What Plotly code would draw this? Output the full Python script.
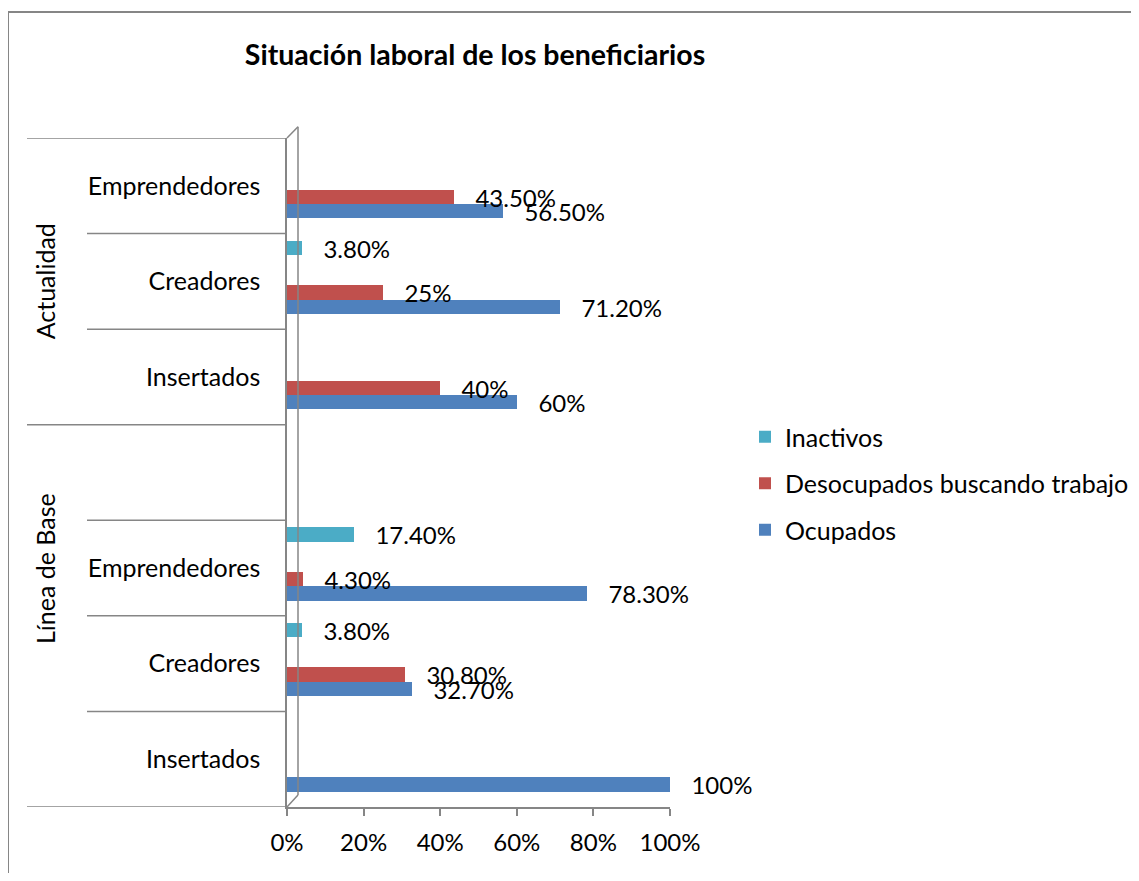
import plotly.graph_objects as go

# ---------------- data ----------------
groups = ["Línea de Base", "Línea de Base", "Línea de Base", "Línea de Base",
          "Actualidad", "Actualidad", "Actualidad"]
subcats = ["Insertados", "Creadores", "Emprendedores", "",
           "Insertados", "Creadores", "Emprendedores"]
ocupados = [100, 32.7, 78.3, None, 60, 71.2, 56.5]
desocupados = [None, 30.8, 4.3, None, 40, 25, 43.5]
inactivos = [None, 3.8, 17.4, None, None, 3.8, None]
series_names = ["Ocupados", "Desocupados buscando trabajo", "Inactivos"]
x_ticks = [0, 20, 40, 60, 80, 100]

# ---------------- styling ----------------
FONT = "Lato"
FS_CAT = 25
FS_DATA = 24
GRAY = "#868686"
colors = {"Ocupados": "#4F81BD", "Desocupados buscando trabajo": "#C0504D", "Inactivos": "#4BACC6"}
legend_rank = {"Inactivos": 1, "Desocupados buscando trabajo": 2, "Ocupados": 3}
bar_width = 0.15
bar_offset = {"Ocupados": -0.34, "Desocupados buscando trabajo": -0.19, "Inactivos": 0.275}

OFF = 8  # page body margin
W, H = 1139 - 2 * OFF, 881 - 2 * OFF
# plot area in screen pixels
SX0, SX1, SY0, SY1 = 287, 670, 138, 807
ML = SX0 - OFF
MR = W - (SX1 - OFF)
MT = SY0 - OFF
MB = H - (SY1 - OFF)


def px(xs):
    return (xs - SX0) / (SX1 - SX0)


def py(ys):
    return (SY1 - ys) / (SY1 - SY0)


keys = [f"{g}|{c}" for g, c in zip(groups, subcats)]


def fmt(v):
    if v is None:
        return ""
    s = f"{v:.0f}%" if float(v).is_integer() else f"{v:.2f}%"
    return "\u00a0\u00a0\u00a0" + s


fig = go.Figure()
for name, vals in zip(series_names, [ocupados, desocupados, inactivos]):
    fig.add_trace(go.Bar(
        name=name, orientation="h", y=keys, x=vals,
        width=bar_width, offset=bar_offset[name],
        marker=dict(color=colors[name], line=dict(width=0)),
        text=[fmt(v) for v in vals], textposition="outside",
        constraintext="none", cliponaxis=False,
        textfont=dict(family=FONT, size=FS_DATA, color="black"),
        legendgroup=name, legendrank=legend_rank[name],
    ))

shapes = []
shapes.append(dict(type="rect", xref="paper", yref="paper",
                   x0=px(8), y0=py(12), x1=px(1400), y1=py(1100),
                   line=dict(color=GRAY, width=2), layer="below"))
n = len(keys)
for k in range(n + 1):
    yv = k - 0.5
    long_line = k in (0, 4, n)
    shapes.append(dict(type="line", xref="paper", yref="y",
                       x0=px(27 if long_line else 87), x1=0, y0=yv, y1=yv,
                       line=dict(color=GRAY, width=1.5)))
shapes.append(dict(type="line", xref="paper", yref="paper",
                   x0=px(298), x1=px(298), y0=py(795), y1=py(126.7),
                   line=dict(color=GRAY, width=1.5)))
shapes.append(dict(type="line", xref="paper", yref="paper",
                   x0=0, x1=px(298), y0=1, y1=py(126.7),
                   line=dict(color=GRAY, width=1.5)))
shapes.append(dict(type="line", xref="paper", yref="paper",
                   x0=0, x1=px(298), y0=0, y1=py(795),
                   line=dict(color=GRAY, width=1.5)))

annotations = [
    dict(text="Actualidad", xref="paper", yref="y", x=px(45), xanchor="center",
         y=keys.index("Actualidad|Creadores"), textangle=-90, showarrow=False,
         font=dict(family=FONT, size=FS_CAT, color="black")),
    dict(text="Línea de Base", xref="paper", yref="y", x=px(45), xanchor="center",
         y=keys.index("Línea de Base|Emprendedores"), textangle=-90, showarrow=False,
         font=dict(family=FONT, size=FS_CAT, color="black")),
]

fig.update_layout(
    width=W, height=H,
    margin=dict(l=ML, r=MR, t=MT, b=MB, autoexpand=False),
    paper_bgcolor="white", plot_bgcolor="white",
    barmode="overlay",
    title=dict(text="<b>Situación laboral de los beneficiarios</b>",
               font=dict(family=FONT, size=28.5, color="black"),
               x=(475 - OFF) / W, y=1 - (55 - OFF) / H, xanchor="center", yanchor="middle",
               xref="container", yref="container"),
    font=dict(family=FONT, size=FS_CAT, color="black"),
    legend=dict(x=px(745), y=py(483.5), xanchor="left", yanchor="middle",
                traceorder="grouped", tracegroupgap=11,
                font=dict(family=FONT, size=FS_CAT, color="black"),
                bgcolor="rgba(0,0,0,0)"),
    shapes=shapes, annotations=annotations,
    bargap=0,
)
fig.update_xaxes(range=[0, 100], tickvals=x_ticks, ticktext=[f"{v}%" for v in x_ticks],
                 showline=True, linecolor=GRAY, linewidth=1.5,
                 ticks="outside", ticklen=7, tickcolor=GRAY, tickwidth=1.5,
                 showgrid=False, zeroline=False, ticklabelstandoff=6,
                 tickfont=dict(family=FONT, size=FS_DATA, color="black"), fixedrange=True)
fig.update_yaxes(type="category", categoryorder="array", categoryarray=keys,
                 range=[-0.5, n - 0.5], tickvals=keys, ticktext=subcats,
                 showline=True, linecolor=GRAY, linewidth=1.5, ticks="",
                 showgrid=False, zeroline=False, ticklabelstandoff=20,
                 tickfont=dict(family=FONT, size=FS_CAT, color="black"), fixedrange=True)

fig.write_html("out.html")
